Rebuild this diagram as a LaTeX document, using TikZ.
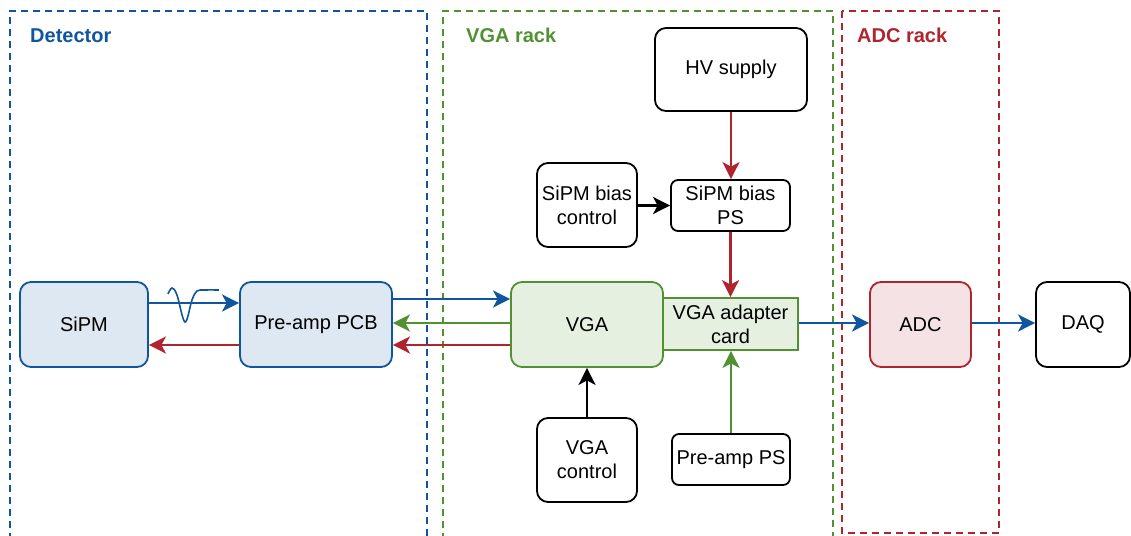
\documentclass[tikz,border=0pt]{standalone}
\usepackage{fontspec}
\setmainfont{Liberation Sans}
\usetikzlibrary{arrows.meta}
\definecolor{cblue}{RGB}{16,86,158}
\definecolor{cbluefill}{RGB}{222,232,242}
\definecolor{cgreen}{RGB}{82,145,50}
\definecolor{cgreenfill}{RGB}{230,240,225}
\definecolor{cred}{RGB}{176,36,46}
\definecolor{credfill}{RGB}{245,226,228}
\tikzset{
  base/.style={draw, line width=1.8pt, align=center, inner sep=2pt,
    font=\fontsize{20}{24}\selectfont},
  rbox/.style={base, rounded corners=11pt},
  sbox/.style={base, rounded corners=7pt},
  bluebox/.style={rbox, draw=cblue, fill=cbluefill},
  greenbox/.style={rbox, draw=cgreen, fill=cgreenfill},
  redbox/.style={rbox, draw=cred, fill=credfill},
  conn/.style={line width=2.6pt, -{Stealth[length=17pt,width=17pt,inset=4.5pt]}},
  frame/.style={line width=2pt, dash pattern=on 7pt off 5pt},
  ftitle/.style={font=\bfseries\fontsize{20}{24}\selectfont, anchor=west, inner sep=0pt}
}
\begin{document}
\begin{tikzpicture}[x=1pt,y=-1pt]
\useasboundingbox (0,0) rectangle (1131,535);
% frames
\draw[frame, cblue] (10,540) -- (10,11) -- (427,11) -- (427,540);
\draw[frame, cgreen] (443,540) -- (443,11) -- (833,11) -- (833,540);
\draw[frame, cred] (842,11) rectangle (999,533);
\node[ftitle, text=cblue] (tdet) at (30,35.5) {Detector};
\node[ftitle, text=cgreen] (tvga) at (466,35.5) {VGA rack};
\node[ftitle, text=cred] (tadc) at (857,35.5) {ADC rack};
% nodes
\node[bluebox, minimum width=128pt, minimum height=85pt] (sipm) at (84,324.5) {SiPM};
\node[bluebox, minimum width=152pt, minimum height=85pt] (pre) at (316,324.5) {Pre-amp PCB};
\node[greenbox, minimum width=152pt, minimum height=85pt] (vga) at (587,324.5) {VGA};
\node[base, draw=cgreen, fill=cgreenfill, minimum width=135pt, minimum height=52pt] (adp) at (730.5,324) {VGA adapter\\card};
\node[redbox, minimum width=101pt, minimum height=85pt] (adc) at (920.5,324.5) {ADC};
\node[rbox, minimum width=94pt, minimum height=85pt] (daq) at (1083,324.5) {DAQ};
\node[rbox, minimum width=152pt, minimum height=83pt] (hv) at (731,69.5) {HV supply};
\node[rbox, minimum width=100pt, minimum height=84pt] (bc) at (587,205) {SiPM bias\\control};
\node[sbox, minimum width=119pt, minimum height=51pt] (bps) at (730.5,205.5) {SiPM bias\\PS};
\node[rbox, minimum width=100pt, minimum height=84pt] (vc) at (587,460) {VGA\\control};
\node[sbox, minimum width=118pt, minimum height=51pt] (pps) at (731,459.5) {Pre-amp PS};
% row coordinates
\coordinate (r299) at (0,299);
\coordinate (r303) at (0,303);
\coordinate (r323) at (0,323);
\coordinate (r345) at (0,345);
% connectors
\draw[conn, cblue] (sipm.east |- r303) -- (pre.west |- r303);
\draw[conn, cred] (pre.west |- r345) -- (sipm.east |- r345);
\draw[conn, cblue] (pre.east |- r299) -- (vga.west |- r299);
\draw[conn, cgreen] (vga.west |- r323) -- (pre.east |- r323);
\draw[conn, cred] (vga.west |- r345) -- (pre.east |- r345);
\draw[conn, cred] (hv.south) -- (hv.south |- bps.north);
\draw[conn, black] (bc.east |- bps.west) -- (bps.west);
\draw[conn, cred] (bps.south) -- (bps.south |- adp.north);
\draw[conn, cgreen] (pps.north) -- (pps.north |- adp.south);
\draw[conn, black] (vc.north) -- (vc.north |- vga.south);
\draw[conn, cblue] (adp.east |- r323) -- (adc.west |- r323);
\draw[conn, cblue] (adc.east |- r323) -- (daq.west |- r323);
% pulse waveform
\draw[cblue, line width=1.6pt] plot[smooth, tension=0.6] coordinates {(168,294) (172,288) (177,295) (185,322) (192,300) (197,291) (205,290) (219,290)};
\end{tikzpicture}
\end{document}
